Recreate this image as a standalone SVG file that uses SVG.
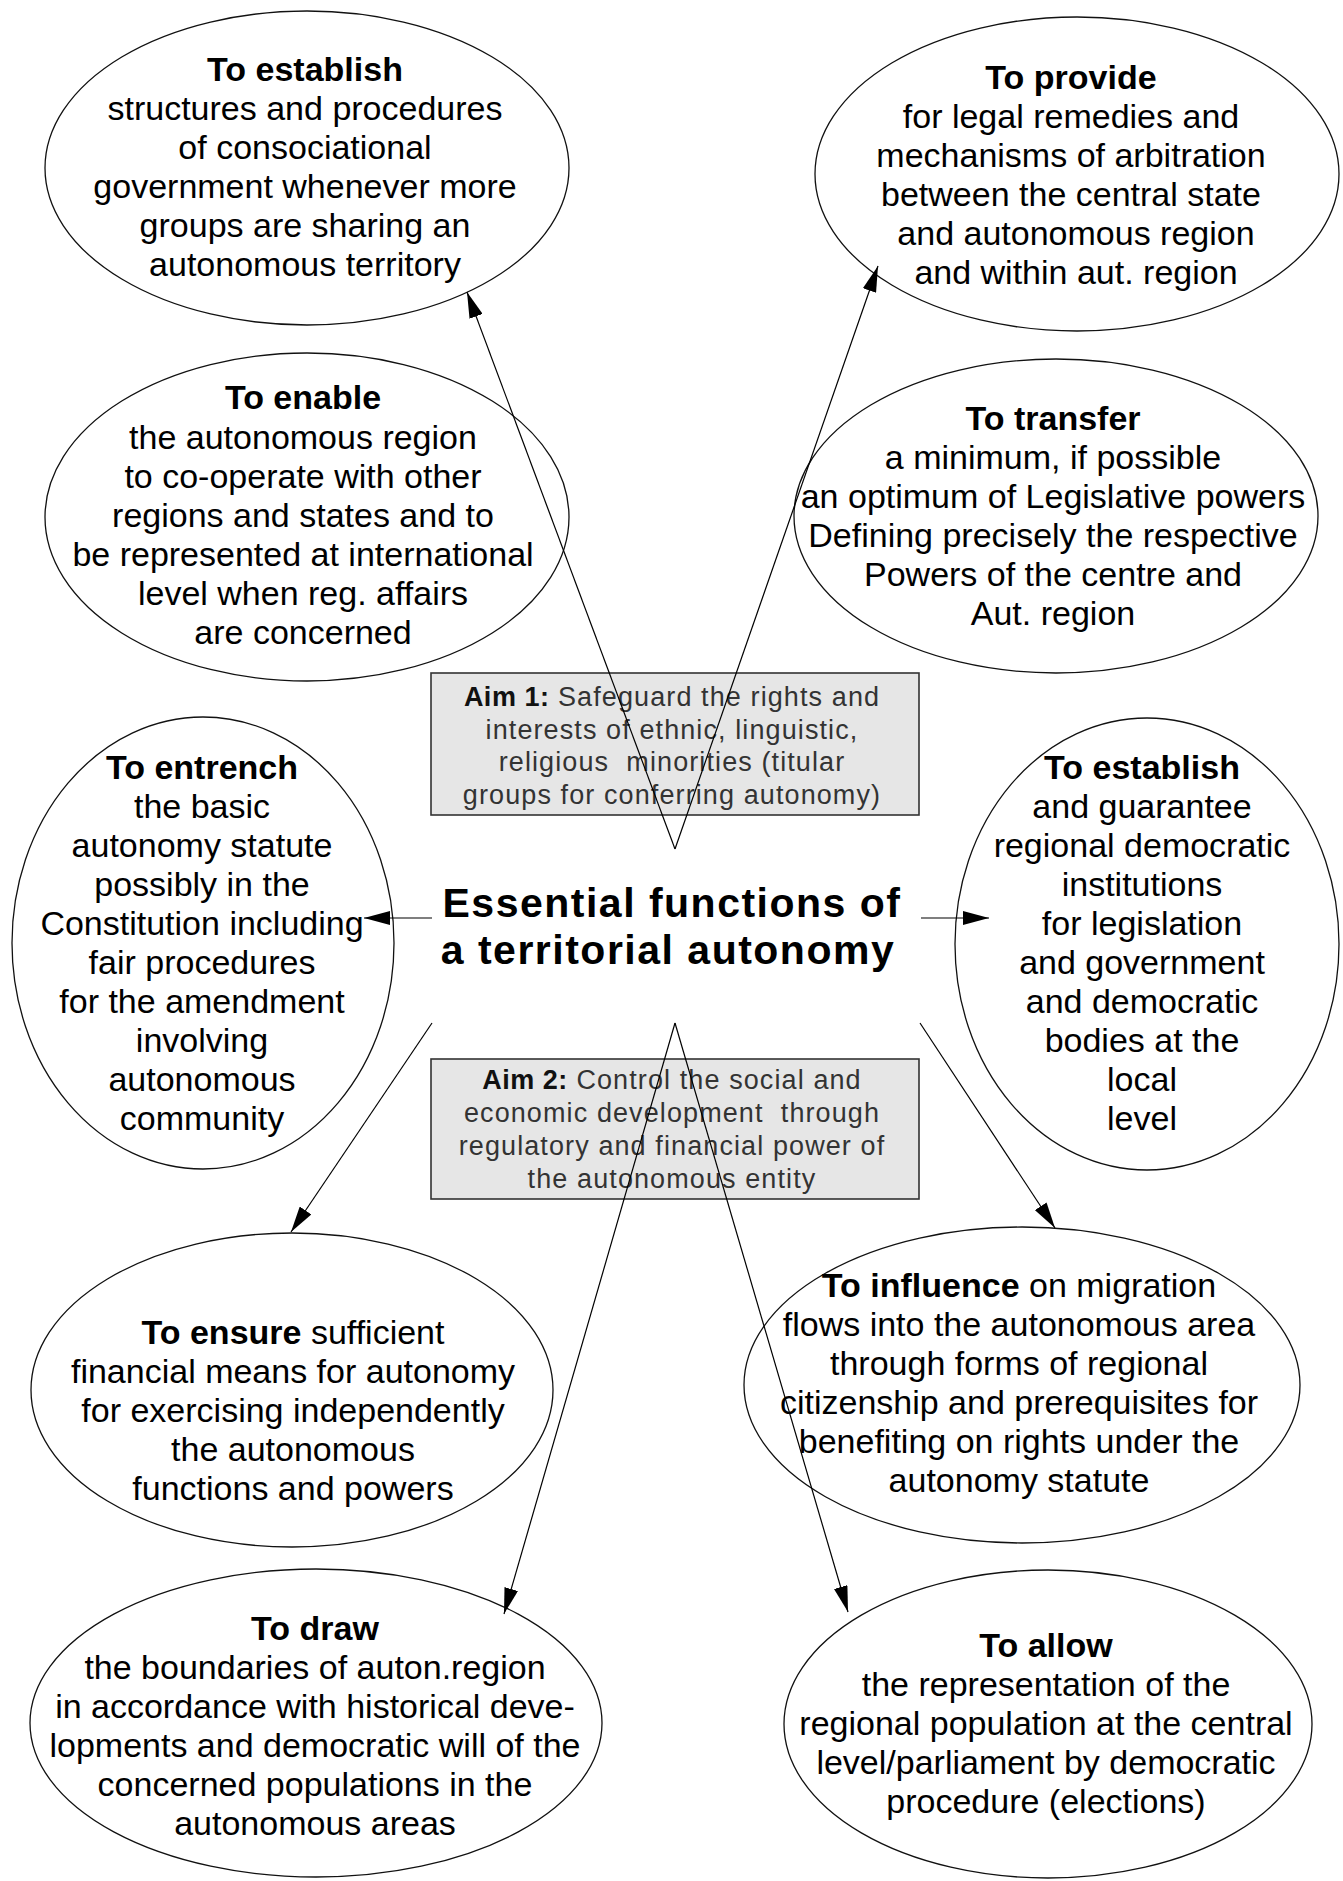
<svg xmlns="http://www.w3.org/2000/svg" width="1343" height="1881" viewBox="0 0 1343 1881">
<defs>
<style>
.bg{fill:#ffffff}
.node ellipse{fill:#ffffff;stroke:#111111;stroke-width:1.3}
.node text{font-family:"Liberation Sans",Arial,sans-serif;font-size:34px;fill:#000000;text-anchor:middle}
.b{font-weight:bold}
.aim rect{fill:#e6e6e6;stroke:#333333;stroke-width:1.6}
.aim text{font-family:"Liberation Sans",Arial,sans-serif;font-size:27px;fill:#333333;text-anchor:middle;letter-spacing:1.1px}
.aim .ab{font-weight:bold;fill:#111111;letter-spacing:0.5px}
.title text{font-family:"Liberation Sans",Arial,sans-serif;font-size:41px;font-weight:bold;fill:#000000;text-anchor:middle;letter-spacing:1.5px}
.conn line{stroke:#000000;stroke-width:1.2;fill:none}
.arr{marker-end:url(#ah)}
</style>
<marker id="ah" viewBox="0 0 26 14" refX="26" refY="7" markerWidth="26" markerHeight="14" markerUnits="userSpaceOnUse" orient="auto">
<path d="M0,0 L26,7 L0,14 z" fill="#000000"/>
</marker>
</defs>
<rect class="bg" x="0" y="0" width="1343" height="1881"/>

<g id="node-establish-consociational" class="node">
<ellipse cx="307" cy="168" rx="262" ry="157"/>
<text x="305" y="81" class="b">To establish</text>
<text x="305" y="120">structures and procedures</text>
<text x="305" y="159">of consociational</text>
<text x="305" y="198">government whenever more</text>
<text x="305" y="237">groups are sharing an</text>
<text x="305" y="276">autonomous territory</text>
</g>

<g id="node-enable" class="node">
<ellipse cx="307" cy="517" rx="262" ry="164"/>
<text x="303" y="409" class="b">To enable</text>
<text x="303" y="449">the autonomous region</text>
<text x="303" y="488">to co-operate with other</text>
<text x="303" y="527">regions and states and to</text>
<text x="303" y="566">be represented at international</text>
<text x="303" y="605">level when reg. affairs</text>
<text x="303" y="644">are concerned</text>
</g>

<g id="node-provide" class="node">
<ellipse cx="1077" cy="174" rx="262" ry="157"/>
<text x="1071" y="89" class="b">To provide</text>
<text x="1071" y="128">for legal remedies and</text>
<text x="1071" y="167">mechanisms of arbitration</text>
<text x="1071" y="206">between the central state</text>
<text x="1076" y="245">and autonomous region</text>
<text x="1076" y="284">and within aut. region</text>
</g>

<g id="node-transfer" class="node">
<ellipse cx="1056" cy="516" rx="262" ry="157"/>
<text x="1053" y="430" class="b">To transfer</text>
<text x="1053" y="469">a minimum, if possible</text>
<text x="1053" y="508">an optimum of Legislative powers</text>
<text x="1053" y="547">Defining precisely the respective</text>
<text x="1053" y="586">Powers of the centre and</text>
<text x="1053" y="625">Aut. region</text>
</g>

<g id="node-entrench" class="node">
<ellipse cx="203" cy="943" rx="191" ry="226"/>
<text x="202" y="779" class="b">To entrench</text>
<text x="202" y="818">the basic</text>
<text x="202" y="857">autonomy statute</text>
<text x="202" y="896">possibly in the</text>
<text x="202" y="935">Constitution including</text>
<text x="202" y="974">fair procedures</text>
<text x="202" y="1013">for the amendment</text>
<text x="202" y="1052">involving</text>
<text x="202" y="1091">autonomous</text>
<text x="202" y="1130">community</text>
</g>

<g id="node-establish-institutions" class="node">
<ellipse cx="1147" cy="944" rx="192" ry="226"/>
<text x="1142" y="779" class="b">To establish</text>
<text x="1142" y="818">and guarantee</text>
<text x="1142" y="857">regional democratic</text>
<text x="1142" y="896">institutions</text>
<text x="1142" y="935">for legislation</text>
<text x="1142" y="974">and government</text>
<text x="1142" y="1013">and democratic</text>
<text x="1142" y="1052">bodies at the</text>
<text x="1142" y="1091">local</text>
<text x="1142" y="1130">level</text>
</g>

<g id="node-ensure" class="node">
<ellipse cx="292" cy="1390" rx="261" ry="157"/>
<text x="293" y="1344"><tspan class="b">To ensure</tspan> sufficient</text>
<text x="293" y="1383">financial means for autonomy</text>
<text x="293" y="1422">for exercising independently</text>
<text x="293" y="1461">the autonomous</text>
<text x="293" y="1500">functions and powers</text>
</g>

<g id="node-influence" class="node">
<ellipse cx="1022" cy="1385" rx="278" ry="158"/>
<text x="1019" y="1297"><tspan class="b">To influence</tspan> on migration</text>
<text x="1019" y="1336">flows into the autonomous area</text>
<text x="1019" y="1375">through forms of regional</text>
<text x="1019" y="1414">citizenship and prerequisites for</text>
<text x="1019" y="1453">benefiting on rights under the</text>
<text x="1019" y="1492">autonomy statute</text>
</g>

<g id="node-draw" class="node">
<ellipse cx="316" cy="1723" rx="286" ry="154"/>
<text x="315" y="1640" class="b">To draw</text>
<text x="315" y="1679">the boundaries of auton.region</text>
<text x="315" y="1718">in accordance with historical deve-</text>
<text x="315" y="1757">lopments and democratic will of the</text>
<text x="315" y="1796">concerned populations in the</text>
<text x="315" y="1835">autonomous areas</text>
</g>

<g id="node-allow" class="node">
<ellipse cx="1048" cy="1724" rx="264" ry="154"/>
<text x="1046" y="1657" class="b">To allow</text>
<text x="1046" y="1696">the representation of the</text>
<text x="1046" y="1735">regional population at the central</text>
<text x="1046" y="1774">level/parliament by democratic</text>
<text x="1046" y="1813">procedure (elections)</text>
</g>

<g id="node-aim1" class="aim">
<rect x="431" y="673" width="488" height="142"/>
<text x="672" y="706" xml:space="preserve"><tspan class="ab">Aim 1:</tspan> Safeguard the rights and</text>
<text x="672" y="739">interests of ethnic, linguistic,</text>
<text x="672" y="771" xml:space="preserve">religious  minorities (titular</text>
<text x="672" y="804">groups for conferring autonomy)</text>
</g>

<g id="node-aim2" class="aim">
<rect x="431" y="1059" width="488" height="140"/>
<text x="672" y="1089" xml:space="preserve"><tspan class="ab">Aim 2:</tspan> Control the social and</text>
<text x="672" y="1122" xml:space="preserve">economic development  through</text>
<text x="672" y="1155">regulatory and financial power of</text>
<text x="672" y="1188">the autonomous entity</text>
</g>

<g id="node-center" class="title">
<text x="672" y="917">Essential functions of</text>
<text x="668" y="964">a territorial autonomy</text>
</g>

<g id="connectors" class="conn">
<line class="arr" x1="675" y1="849" x2="467" y2="292"/>
<line class="arr" x1="675" y1="849" x2="878" y2="266"/>
<line class="arr" x1="432" y1="918" x2="364" y2="918"/>
<line class="arr" x1="921" y1="918" x2="989" y2="918"/>
<line class="arr" x1="432" y1="1023" x2="291" y2="1232"/>
<line class="arr" x1="920" y1="1023" x2="1055" y2="1228"/>
<line class="arr" x1="675" y1="1023" x2="504" y2="1614"/>
<line class="arr" x1="675" y1="1023" x2="848" y2="1612"/>
</g>
</svg>
